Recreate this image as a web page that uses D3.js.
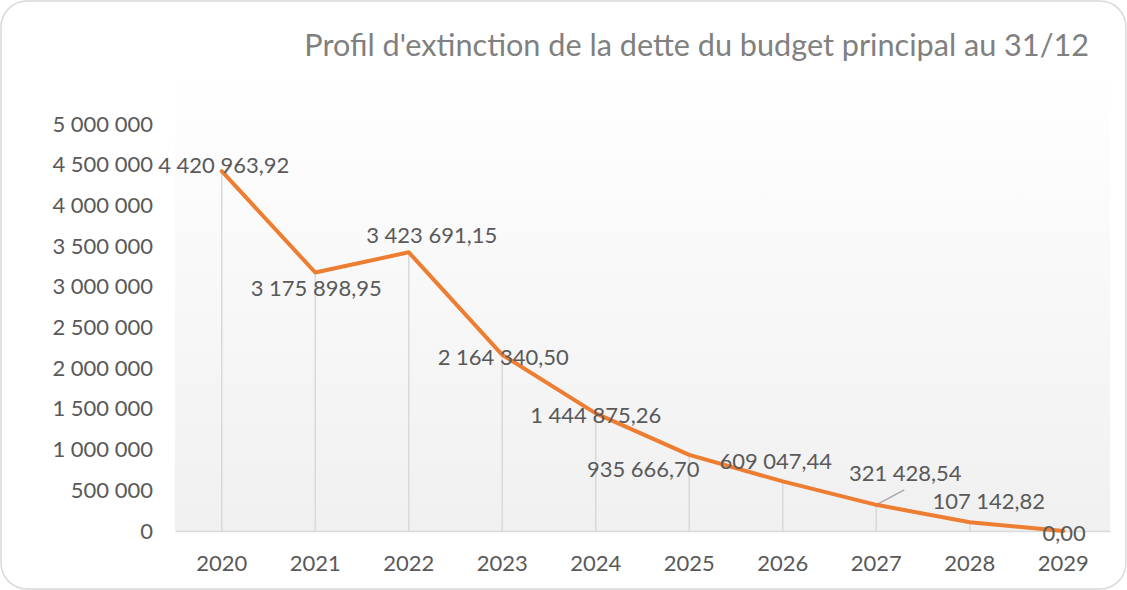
<!DOCTYPE html>
<html><head><meta charset="utf-8">
<script src="https://cdn.jsdelivr.net/npm/d3@7"></script>
<style>html,body{margin:0;padding:0;background:#fff;}svg{display:block;}</style>
</head><body>
<svg id="chart" width="1127" height="590"></svg>
<script>
const years = ["2020","2021","2022","2023","2024","2025","2026","2027","2028","2029"];
const debt = [4420963.92, 3175898.95, 3423691.15, 2164340.50, 1444875.26, 935666.70, 609047.44, 321428.54, 107142.82, 0.00];
const yTicks = [0, 500000, 1000000, 1500000, 2000000, 2500000, 3000000, 3500000, 4000000, 4500000, 5000000];
const title = "Profil d'extinction de la dette du budget principal au 31/12";

// manual label placement (text centre offset from point), as in the original
const labelOffsets = [[2,-6.5],[1,15],[23,-18],[1,2],[0,1],[-46,14],[-7,-21],[29,-32],[19,-22],[1,1]];

const W = 1127, H = 590;
const L = 175, R = 1110, T = 124, B = 531;
const FONT = "Lato, 'Open Sans', sans-serif";
const FS = "22px";
const svg = d3.select("#chart");

const defs = svg.append("defs");
const grad = defs.append("linearGradient").attr("id","pg").attr("x1",0).attr("y1",0).attr("x2",0).attr("y2",1);
grad.append("stop").attr("offset","0%").attr("stop-color","#ffffff");
grad.append("stop").attr("offset","100%").attr("stop-color","#f0f0f0");

svg.append("rect").attr("x",1).attr("y",1).attr("width",W-2).attr("height",H-2)
  .attr("rx",26).attr("ry",26).attr("fill","#fff").attr("stroke","#d9d9d9").attr("stroke-width",1.5);

const x = d3.scaleBand().domain(years).range([L,R]).padding(0);
const y = d3.scaleLinear().domain([0,5000000]).range([B,T]);
const cx = d => x(d) + x.bandwidth()/2;

svg.append("rect").attr("x",L).attr("y",T-50).attr("width",R-L).attr("height",B-T+50).attr("fill","url(#pg)");

const loc = d3.formatLocale({decimal:",", thousands:" ", grouping:[3], currency:["","€"]});
const fmtTick = loc.format(",.0f");
const fmtLab = loc.format(",.2f");

// title
const tt = svg.append("text").attr("x",1089).attr("y",44).attr("text-anchor","end")
  .attr("dominant-baseline","central").attr("fill","#808080")
  .style("font-family",FONT).style("font-size","28px").text(title);
const tw = tt.node().getComputedTextLength();
tt.style("font-size", (28*785/tw).toFixed(2)+"px");

// y axis
const ya = svg.append("g").attr("transform",`translate(${L},0)`)
  .call(d3.axisLeft(y).tickValues(yTicks).tickFormat(fmtTick).tickSize(0).tickPadding(22));
ya.select(".domain").remove();
ya.selectAll("text").attr("fill","#595959").style("font-family",FONT).style("font-size",FS);

// x axis
const xa = svg.append("g").attr("transform",`translate(0,${B})`)
  .call(d3.axisBottom(x).tickSize(0).tickPadding(24));
xa.select(".domain").attr("stroke","#d9d9d9").attr("stroke-width",1.5);
xa.selectAll("text").attr("fill","#595959").style("font-family",FONT).style("font-size",FS);

const pts = years.map((yr,i)=>({yr, v:debt[i], i}));

// drop lines
svg.append("g").selectAll("line").data(pts).join("line")
  .attr("x1",d=>cx(d.yr)).attr("x2",d=>cx(d.yr)).attr("y1",d=>y(d.v)).attr("y2",B)
  .attr("stroke","#d9d9d9").attr("stroke-width",1.5);

// leader line for 2027
const p7 = pts[7];
svg.append("line").attr("x1",cx(p7.yr)).attr("y1",y(p7.v))
  .attr("x2",cx(p7.yr)+28).attr("y2",y(p7.v)-15).attr("stroke","#a6a6a6").attr("stroke-width",1.3);

// line
svg.append("path").datum(pts)
  .attr("d", d3.line().x(d=>cx(d.yr)).y(d=>y(d.v)))
  .attr("fill","none").attr("stroke","#ED7D31").attr("stroke-width",4)
  .attr("stroke-linejoin","round").attr("stroke-linecap","round");

// labels
svg.append("g").selectAll("text").data(pts).join("text")
  .attr("x",d=>cx(d.yr)+labelOffsets[d.i][0]).attr("y",d=>y(d.v)+labelOffsets[d.i][1])
  .attr("text-anchor","middle").attr("dominant-baseline","central")
  .attr("fill","#595959").style("font-family",FONT).style("font-size",FS)
  .text(d=>fmtLab(d.v));
</script>
</body></html>
